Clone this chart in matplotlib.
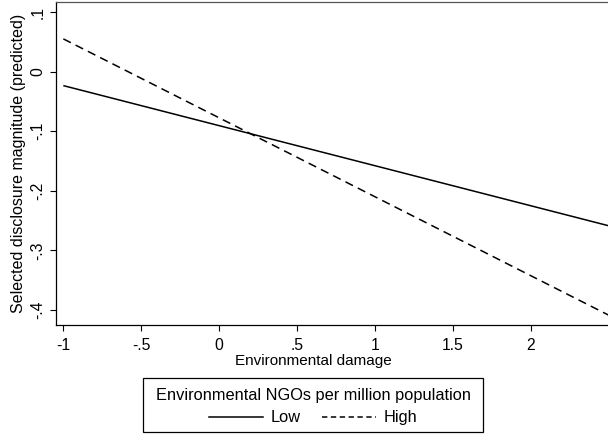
import matplotlib
matplotlib.use("Agg")
import matplotlib.pyplot as plt
from matplotlib.lines import Line2D
from matplotlib.patches import Rectangle

plt.rcParams['font.family'] = ['Liberation Sans', 'DejaVu Sans']

x_vals = [-1.0, 2.5]
low_vals = [-0.0235, -0.2588]
high_vals = [0.0549, -0.4089]
xticks = [-1, -0.5, 0, 0.5, 1, 1.5, 2]
xticklabels = ['-1', '-.5', '0', '.5', '1', '1.5', '2']
yticks = [0.1, 0, -0.1, -0.2, -0.3, -0.4]
yticklabels = ['.1', '0', '-.1', '-.2', '-.3', '-.4']

W, H = 608, 434
fig = plt.figure(figsize=(W/100, H/100), dpi=100)
left, right, top, bottom = 55.7, 609, 2, 325
ax = fig.add_axes([left/W, 1-bottom/H, (right-left)/W, (bottom-top)/H])

ax.plot(x_vals, low_vals, color='black', lw=1.1, solid_capstyle='butt', label='Low')
ax.plot(x_vals, high_vals, color='black', lw=1.1, dashes=(5.5, 3.5), label='High')

ax.set_xlim(-1.049, 2.494 + 1/155.9)
ax.set_ylim(-0.4252, 0.1168)
ax.set_xticks(xticks)
ax.set_xticklabels(xticklabels)
ax.set_yticks(yticks)
ax.set_yticklabels(yticklabels, rotation=90, va='center')
ax.tick_params(direction='out', length=4.5, width=0.8, labelsize=11.3)
ax.tick_params(axis='x', pad=5)
ax.tick_params(axis='y', pad=3)
for s in ax.spines.values():
    s.set_linewidth(0.9)
ax.spines['top'].set_color('#555555')

ax.set_xlabel('Environmental damage', fontsize=11.0, labelpad=1)
ax.xaxis.set_label_coords((313.5-left)/(right-left), -(354.5-bottom)/(bottom-top))
ax.set_ylabel('Selected disclosure magnitude (predicted)', fontsize=11.5, labelpad=3)

# legend box frame
bx0, bx1, by0, by1 = 142.7, 483.3, 378, 431.7
fig.add_artist(Rectangle((bx0/W, 1-by1/H), (bx1-bx0)/W, (by1-by0)/H,
                         transform=fig.transFigure, fill=False,
                         edgecolor='black', lw=0.9))

handles = [Line2D([0], [0], color='black', lw=1.1),
           Line2D([0], [0], color='black', lw=1.1, dashes=(3.5, 2.3))]
leg = fig.legend(handles, ['Low', 'High'], title='Environmental NGOs per million population',
                 loc='center', bbox_to_anchor=((bx0+bx1)/2/W, 1-((by0+by1)/2+2.0)/H), ncol=2,
                 fontsize=11.8, title_fontsize=11.8, frameon=False,
                 handlelength=3.3, columnspacing=1.3,
                 borderpad=0.0, handletextpad=0.45, borderaxespad=0, labelspacing=0.2)
leg._legend_box.sep = 5

fig.savefig('out.png', dpi=100)
